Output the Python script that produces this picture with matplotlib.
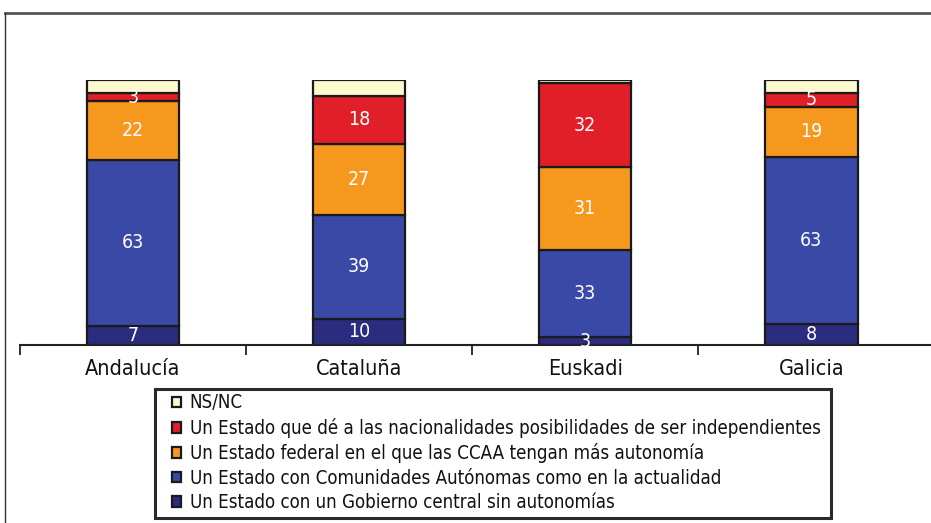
import matplotlib
matplotlib.use("Agg")
import matplotlib.pyplot as plt
from matplotlib.lines import Line2D
from matplotlib.patches import Rectangle
import numpy as np

plt.rcParams['font.family'] = ['DejaVu Sans']
plt.rcParams['font.stretch'] = 'condensed'

categories = ["Andalucía", "Cataluña", "Euskadi", "Galicia"]
series_names = [
    "Un Estado con un Gobierno central sin autonomías",
    "Un Estado con Comunidades Autónomas como en la actualidad",
    "Un Estado federal en el que las CCAA tengan más autonomía",
    "Un Estado que dé a las nacionalidades posibilidades de ser independientes",
    "NS/NC",
]
central = [7, 10, 3, 8]
actual = [63, 39, 33, 63]
federal = [22, 27, 31, 19]
independ = [3, 18, 32, 5]
nsnc = [5, 6, 1, 5]
series = [central, actual, federal, independ, nsnc]
colors = ["#2B2C80", "#3A49A6", "#F7981E", "#E01F28", "#FDF9CF"]
show_labels = [True, True, True, True, False]

fig = plt.figure(figsize=(9.31, 5.23), dpi=100)
W, H = 931, 523
ax = fig.add_axes([20 / W, 1 - 345 / H, (931 - 20) / W, (345 - 80) / H])

x = np.arange(len(categories))
bottom = np.zeros(len(categories))
for vals, col, nm, lab in zip(series, colors, series_names, show_labels):
    vals = np.array(vals, dtype=float)
    ax.bar(x, vals, bottom=bottom, width=0.41, color=col,
           edgecolor="#1a1a1a", linewidth=1.6, label=nm)
    if lab:
        for xi, b, v in zip(x, bottom, vals):
            ax.text(xi, b + v / 2, f"{int(v)}", ha="center", va="center",
                    color="white", fontsize=14)
    bottom += vals

ax.set_xlim(-0.5, 3.53)
ax.set_ylim(0, 100)
for s in ["top", "right", "left"]:
    ax.spines[s].set_visible(False)
ax.spines["bottom"].set_color("#222222")
ax.spines["bottom"].set_linewidth(1.5)
ax.set_yticks([])
ax.set_xticks(x)
ax.set_xticklabels(categories, fontsize=15.5, color="#111111")
ax.tick_params(axis="x", which="major", length=0, pad=10)
ax.set_xticks([-0.5, 0.5, 1.5, 2.5], minor=True)
ax.tick_params(axis="x", which="minor", length=7, width=1.3, color="#222222", direction="out")

# legend box
fig.add_artist(Rectangle((155 / W, 1 - 518 / H), (831 - 155) / W, (518 - 389) / H,
                         transform=fig.transFigure, facecolor="white",
                         edgecolor="#2a2a2a", linewidth=2.2, zorder=1))

h, l = ax.get_legend_handles_labels()
leg = fig.legend(h[::-1], l[::-1], loc="upper left",
                 bbox_to_anchor=(172 / W, 1 - 393.5 / H),
                 frameon=False, fontsize=13.4, handlelength=0.5,
                 handleheight=0.5, handletextpad=0.45, labelspacing=0.29,
                 borderaxespad=0, borderpad=0.0)
leg.set_zorder(3)
for t in leg.get_texts():
    t.set_color("#111111")

# outer frame
fig.add_artist(Line2D([5 / W, 1], [1 - 13 / H, 1 - 13 / H], transform=fig.transFigure,
                      color="#555555", linewidth=2))
fig.add_artist(Line2D([5 / W, 5 / W], [0, 1 - 13 / H], transform=fig.transFigure,
                      color="#333333", linewidth=1))

fig.savefig("out.png", dpi=100)
